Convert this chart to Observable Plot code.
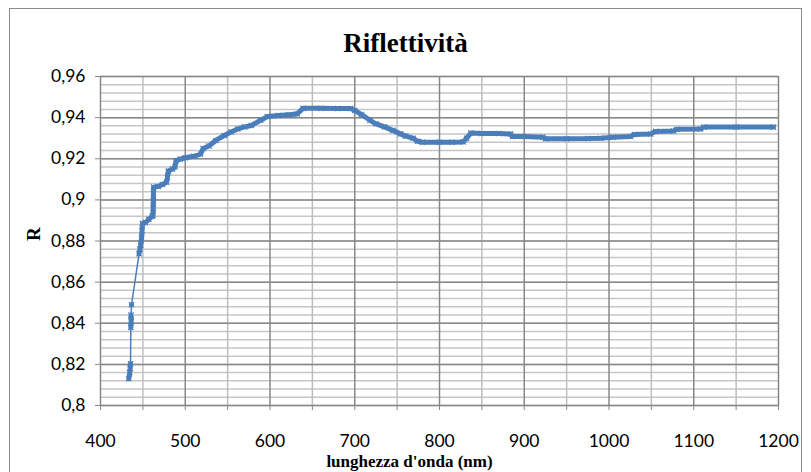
<!DOCTYPE html>
<html>
<head>
<meta charset="utf-8">
<script src="https://cdn.jsdelivr.net/npm/d3@7"></script>
<script src="https://cdn.jsdelivr.net/npm/@observablehq/plot@0.6"></script>
<style>
  html, body { margin: 0; padding: 0; background: #fff; overflow: hidden; }
  #wrap { position: relative; width: 811px; height: 472px; }
  #border { position: absolute; left: 9px; top: 8px; width: 793px; height: 480px; border: 1px solid #8a8a8a; box-sizing: border-box; }
  #chart { position: absolute; left: 0; top: 0; }
</style>
</head>
<body>
<div id="wrap"><div id="border"></div><div id="chart"></div></div>
<script>
// Wavelength (nm)
const wavelength = [
  433.4, 434.5, 435.0, 435.4,
  435.8, 436.2, 436.0, 436.6,
  445.5, 446.5, 447.5, 448.5, 449.0, 449.5, 453, 457, 461, 462,
  462.2, 462.4, 462.5, 462.6, 468, 473, 478, 479, 480, 485, 488, 489, 494,
  500, 510, 518, 521, 528, 536, 546, 554, 562, 570, 578, 589, 597,
  610, 622, 632, 639, 660, 680, 695, 700, 708, 718, 725, 735, 745,
  754, 760, 769, 774, 780, 800, 815, 828, 832, 837, 850, 870, 884,
  886, 900, 922, 925, 950, 975, 990, 1005, 1025, 1030, 1049, 1055,
  1076, 1080, 1108, 1112, 1150, 1194
];
// Reflectance R
const reflectance = [
  0.8130, 0.8160, 0.8180, 0.8203,
  0.8380, 0.8410, 0.8440, 0.8490,
  0.8738, 0.8760, 0.8780, 0.8815, 0.8850, 0.8885, 0.8890, 0.8905, 0.8920, 0.8925,
  0.8960, 0.8995, 0.9030, 0.9062, 0.9065, 0.9075, 0.9086, 0.9110, 0.9140, 0.9150, 0.9160, 0.9190, 0.9198,
  0.9205, 0.9212, 0.9222, 0.9250, 0.9262, 0.9289, 0.9313, 0.9330, 0.9345, 0.9355, 0.9362, 0.9387, 0.9405,
  0.9410, 0.9414, 0.9418, 0.9445, 0.9445, 0.9444, 0.9444, 0.9435, 0.9415, 0.9387, 0.9370, 0.9355, 0.9338,
  0.9321, 0.9310, 0.9300, 0.9285, 0.9280, 0.9280, 0.9280, 0.9282, 0.9300, 0.9325, 0.9323, 0.9323, 0.9320,
  0.9308, 0.9308, 0.9305, 0.9297, 0.9297, 0.9298, 0.9300, 0.9305, 0.9308, 0.9318, 0.9320, 0.9333,
  0.9335, 0.9343, 0.9345, 0.9354, 0.9354, 0.9354
];
const xTicks = [400, 500, 600, 700, 800, 900, 1000, 1100, 1200];
const yTicks = [0.8, 0.82, 0.84, 0.86, 0.88, 0.9, 0.92, 0.94, 0.96];
const titleText = "Riflettività";
const xLabel = "lunghezza d'onda (nm)";
const yLabel = "R";

// group densely measured runs (large jumps in R are sparse, thin segments)
let g = 0;
const data = wavelength.map((w, i) => {
  if (i > 0 && Math.abs(reflectance[i] - reflectance[i - 1]) > 0.0045) g++;
  return {w, r: reflectance[i], g};
});

const minorY = d3.range(0, 41).map(i => 0.8 + i * 0.004);
const minorX = d3.range(450, 1200, 100);
const xTicksAll = d3.range(400, 1201, 50);
const blue = "#4a7ebb";
const serif = "'Liberation Serif', 'Times New Roman', serif";

const chart = Plot.plot({
  width: 811,
  height: 472,
  marginLeft: 100,
  marginRight: 33,
  marginTop: 76,
  marginBottom: 67,
  style: {fontFamily: "Lato, sans-serif", fontSize: "17.5px", color: "#000", background: "transparent", overflow: "visible"},
  x: {domain: [400, 1200]},
  y: {domain: [0.8, 0.96]},
  marks: [
    Plot.ruleY(minorY, {stroke: "#c6c6c6", strokeWidth: 1.5}),
    Plot.ruleX(minorX, {stroke: "#bdbdbd", strokeWidth: 1.5}),
    Plot.ruleY(yTicks, {stroke: "#888888", strokeWidth: 1.5}),
    Plot.ruleX(xTicks, {stroke: "#888888", strokeWidth: 1.5}),
    Plot.axisY({ticks: yTicks, tickSize: 5, tickPadding: 10, stroke: "#888888", label: null,
      tickFormat: d => String(+d.toFixed(2)).replace(".", ",")}),
    Plot.axisX({ticks: xTicksAll, tickSize: 5, tickPadding: 24, stroke: "#888888", label: null,
      tickFormat: d => d % 100 === 0 ? String(d) : ""}),
    Plot.line(data, {x: "w", y: "r", stroke: blue, strokeWidth: 1.5}),
    Plot.line(data, {x: "w", y: "r", z: "g", stroke: blue, strokeWidth: 5, strokeLinejoin: "round"}),
    Plot.dot(data, {x: "w", y: "r", symbol: "times", r: 2.5, stroke: blue, strokeWidth: 1.2}),
    Plot.text([titleText], {frameAnchor: "top", lineAnchor: "middle", dx: -34, dy: -33, fontFamily: serif, fontWeight: "bold", fontSize: 27, fill: "#000"}),
    Plot.text([xLabel], {frameAnchor: "bottom", lineAnchor: "middle", dx: -30, dy: 56, fontFamily: serif, fontWeight: "bold", fontSize: 17, fill: "#000"}),
    Plot.text([yLabel], {frameAnchor: "left", dx: -67, rotate: -90, fontFamily: serif, fontWeight: "bold", fontSize: 19, fill: "#000"})
  ]
});
document.getElementById("chart").appendChild(chart);
</script>
</body>
</html>
